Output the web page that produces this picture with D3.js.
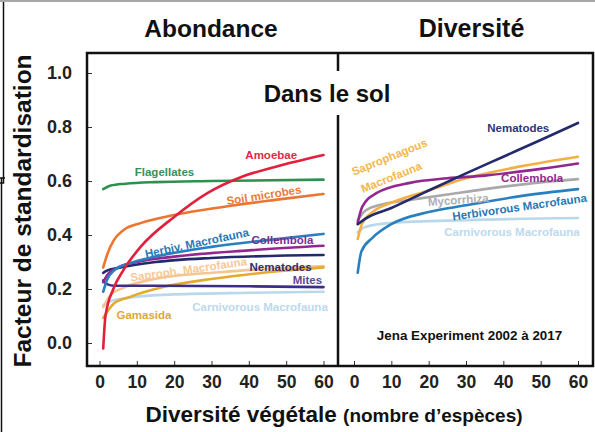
<!DOCTYPE html>
<html>
<head>
<meta charset="utf-8">
<script src="https://cdn.jsdelivr.net/npm/d3@7"></script>
<style>
  body { margin: 0; background: #fff; }
  svg { display: block; font-family: 'Liberation Sans', Arial, sans-serif; }
  .tick text { font-weight: bold; fill: #222; }
  .tick line { stroke: #333; }
</style>
</head>
<body>
<svg id="chart"></svg>
<script>
// values: [plant species, standardised factor]
// left panel (Abondance)
let amoebae = [[1, -0.02], [1.6, 0.1], [3.7, 0.2], [6.4, 0.27], [11, 0.356], [20, 0.467], [29, 0.556], [38, 0.615], [47, 0.652], [60, 0.696]]
let flagellates = [[1, 0.57], [3, 0.583], [7, 0.59], [15, 0.596], [30, 0.6], [60, 0.605]]
let soilMicrobes = [[1, 0.28], [2.2, 0.333], [3.8, 0.38], [6.4, 0.418], [11, 0.444], [20, 0.474], [33, 0.504], [47, 0.53], [60, 0.552]]
let herbivLeft = [[1, 0.19], [2, 0.233], [4, 0.27], [8, 0.295], [15, 0.32], [30, 0.356], [45, 0.381], [60, 0.404]]
let collemLeft = [[1, 0.225], [2, 0.25], [5, 0.28], [10, 0.3], [20, 0.32], [40, 0.343], [60, 0.36]]
let nematLeft = [[1, 0.26], [2, 0.268], [5, 0.278], [15, 0.3], [30, 0.315], [60, 0.326]]
let mites = [[1, 0.232], [2, 0.218], [4, 0.212], [15, 0.212], [40, 0.21], [60, 0.207]]
let saprophLeft = [[1, 0.133], [3, 0.178], [6.5, 0.205], [15, 0.238], [33, 0.263], [60, 0.285]]
let gamasida = [[1, 0.093], [4, 0.148], [8, 0.17], [17, 0.207], [30, 0.237], [45, 0.262], [60, 0.28]]
let carniLeft = [[1, 0.14], [3, 0.155], [8, 0.168], [20, 0.18], [40, 0.186], [60, 0.19]]

// right panel (Diversité)
let nematRight = [[1, 0.44], [3, 0.46], [10, 0.5], [20, 0.565], [30, 0.628], [40, 0.69], [50, 0.752], [60, 0.815]]
let saprophRight = [[1, 0.385], [2.2, 0.444], [5, 0.485], [11, 0.525], [20, 0.565], [30, 0.61], [45, 0.655], [60, 0.69]]
let collemRight = [[1, 0.445], [2.2, 0.504], [6, 0.555], [15, 0.593], [25, 0.61], [35, 0.62], [50, 0.645], [60, 0.665]]
let mycorrhiza = [[1, 0.455], [3, 0.49], [8, 0.515], [15, 0.53], [25, 0.55], [35, 0.57], [50, 0.595], [60, 0.607]]
let herbivRight = [[1, 0.26], [2, 0.34], [5, 0.39], [10, 0.44], [20, 0.485], [30, 0.51], [45, 0.545], [60, 0.57]]
let carniRight = [[1, 0.41], [3, 0.43], [10, 0.445], [30, 0.455], [60, 0.463]]

let xTicks = [0, 10, 20, 30, 40, 50, 60]
let yTicks = [0, 0.2, 0.4, 0.6, 0.8, 1.0]

// series with colour and label (text, position in data units, rotation)
let leftSeries = [
  { data: carniLeft, color: '#b9d8ec', label: 'Carnivorous Macrofauna', lc: '#bcd9ee', lx: 43, ly: 0.12, rot: 0 },
  { data: saprophLeft, color: '#f7c592', label: 'Saproph. Macrofauna', lc: '#f6c896', lx: 24, ly: 0.258, rot: -8 },
  { data: gamasida, color: '#e4aa2c', label: 'Gamasida', lc: '#dca83a', lx: 11.9, ly: 0.09, rot: 0 },
  { data: mites, color: '#3c2d86', label: 'Mites', lc: '#5a4a90', lx: 55.7, ly: 0.22, rot: 0 },
  { data: nematLeft, color: '#232a6b', label: 'Nematodes', lc: '#2a2f6e', lx: 48.5, ly: 0.268, rot: 0 },
  { data: collemLeft, color: '#92288f', label: 'Collembola', lc: '#7a2e8e', lx: 49, ly: 0.368, rot: 0 },
  { data: herbivLeft, color: '#2a7fbf', label: 'Herbiv. Macrofauna', lc: '#2a78b4', lx: 26.3, ly: 0.356, rot: -12 },
  { data: soilMicrobes, color: '#ec7530', label: 'Soil microbes', lc: '#ea7a38', lx: 44.2, ly: 0.533, rot: -9 },
  { data: flagellates, color: '#2f8f4e', label: 'Flagellates', lc: '#3a8f58', lx: 17.4, ly: 0.617, rot: 0 },
  { data: amoebae, color: '#e0203c', label: 'Amoebae', lc: '#de2a44', lx: 46, ly: 0.68, rot: 0 }
]
let rightSeries = [
  { data: carniRight, color: '#b9d8ec', label: 'Carnivorous Macrofauna', lc: '#bcd9ee', lx: 42.3, ly: 0.398, rot: 0 },
  { data: mycorrhiza, color: '#a9a9a9', label: 'Mycorrhiza', lc: '#b0b0b0', lx: 28, ly: 0.515, rot: -4 },
  { data: herbivRight, color: '#2a7fbf', label: 'Herbivorous Macrofauna', lc: '#2a78b4', lx: 44.5, ly: 0.489, rot: -8 },
  { data: saprophRight, color: '#f4b043', label: '', lc: '#f4b043', lx: 0, ly: 0, rot: 0 },
  { data: collemRight, color: '#92288f', label: 'Collembola', lc: '#8e2a8e', lx: 47.7, ly: 0.596, rot: 0 },
  { data: nematRight, color: '#232a6b', label: 'Nematodes', lc: '#2a357a', lx: 44, ly: 0.78, rot: 0 }
]

let width = 595
let height = 432
let frame = { left: 87, right: 593, top: 53, bottom: 366, split: 338 }

let svg = d3.select('#chart').attr('width', width).attr('height', height)

// scales: one x scale for each panel, shared y scale
let xLeft = d3.scaleLinear().domain([0, 60]).range([99.5, 323.5])
let xRight = d3.scaleLinear().domain([0, 60]).range([354, 578])
let y = d3.scaleLinear().domain([0, 1]).range([343, 73])

// crop leftovers round the picture
svg.append('line').attr('x1', 0).attr('x2', width).attr('y1', 1).attr('y2', 1)
  .attr('stroke', '#a8a8a8').attr('stroke-width', 2)
svg.append('path').attr('d', 'M3.5,2 V183 H0').attr('fill', 'none').attr('stroke', '#111').attr('stroke-width', 1.5)
svg.append('path').attr('d', 'M0,178 H5 M1.5,178 V432').attr('fill', 'none').attr('stroke', '#111').attr('stroke-width', 1.5)

// axes with inward ticks
svg.append('g')
  .attr('transform', `translate(${frame.left},0)`)
  .call(d3.axisLeft(y).tickValues(yTicks).tickSize(-5).tickPadding(15).tickFormat(d3.format('.1f')))
  .call(g => g.select('.domain').remove())
  .call(g => g.selectAll('text').style('font-size', '18px'))

for (let xs of [xLeft, xRight]) {
  svg.append('g')
    .attr('transform', `translate(0,${frame.bottom})`)
    .call(d3.axisBottom(xs).tickValues(xTicks).tickSize(-5).tickPadding(10))
    .call(g => g.select('.domain').remove())
    .call(g => g.selectAll('text').style('font-size', '17.5px'))
}

// curves
let lineL = d3.line().x(d => xLeft(d[0])).y(d => y(d[1])).curve(d3.curveMonotoneX)
let lineR = d3.line().x(d => xRight(d[0])).y(d => y(d[1])).curve(d3.curveMonotoneX)

function drawPanel(series, line, xs) {
  let g = svg.append('g')
  g.selectAll('path')
    .data(series)
    .join('path')
    .attr('d', d => line(d.data))
    .attr('fill', 'none')
    .attr('stroke', d => d.color)
    .attr('stroke-width', 2.6)
    .attr('stroke-linecap', 'round')
  g.selectAll('text')
    .data(series.filter(d => d.label))
    .join('text')
    .attr('transform', d => `translate(${xs(d.lx)},${y(d.ly)}) rotate(${d.rot})`)
    .attr('text-anchor', 'middle')
    .attr('fill', d => d.lc)
    .style('font-size', '11.5px')
    .style('font-weight', 'bold')
    .text(d => d.label)
}
drawPanel(leftSeries, lineL, xLeft)
drawPanel(rightSeries, lineR, xRight)

// two-line label of the right Saprophagous curve
svg.append('text')
  .attr('transform', `translate(${xRight(9.9)},${y(0.675)}) rotate(-22)`)
  .attr('text-anchor', 'middle').attr('fill', '#f4b74f')
  .style('font-size', '11.5px').style('font-weight', 'bold')
  .text('Saprophagous')
svg.append('text')
  .attr('transform', `translate(${xRight(10.4)},${y(0.6)}) rotate(-22)`)
  .attr('text-anchor', 'middle').attr('fill', '#f4b74f')
  .style('font-size', '11.5px').style('font-weight', 'bold')
  .text('Macrofauna')

// frame and divider (gap round the subtitle)
svg.append('path')
  .attr('d', `M${frame.left},${frame.top} H${frame.right} V${frame.bottom} H${frame.left} Z`)
  .attr('fill', 'none').attr('stroke', '#111').attr('stroke-width', 2.5)
svg.append('path')
  .attr('d', `M${frame.split},${frame.top} V71 M${frame.split},115 V${frame.bottom}`)
  .attr('stroke', '#111').attr('stroke-width', 2.5)

// titles
let bold = (sel, size) => sel.style('font-weight', 'bold').style('font-size', size + 'px').attr('fill', '#111')

bold(svg.append('text').attr('x', 211).attr('y', 37).attr('text-anchor', 'middle').text('Abondance'), 24.5)
bold(svg.append('text').attr('x', 471.5).attr('y', 37).attr('text-anchor', 'middle').text('Diversité'), 25)
bold(svg.append('text').attr('x', 327).attr('y', 102).attr('text-anchor', 'middle').text('Dans le sol'), 24)
bold(svg.append('text').attr('x', 469.5).attr('y', 340).attr('text-anchor', 'middle').text('Jena Experiment 2002 à 2017'), 13.4)

bold(svg.append('text')
  .attr('transform', 'translate(31,211) rotate(-90)')
  .attr('text-anchor', 'middle')
  .text('Facteur de standardisation'), 24.5)

let xt = svg.append('text').attr('x', 334).attr('y', 422).attr('text-anchor', 'middle')
bold(xt, 22.5)
xt.append('tspan').text('Diversité végétale ')
xt.append('tspan').style('font-size', '19px').text('(nombre d’espèces)')
</script>
</body>
</html>
